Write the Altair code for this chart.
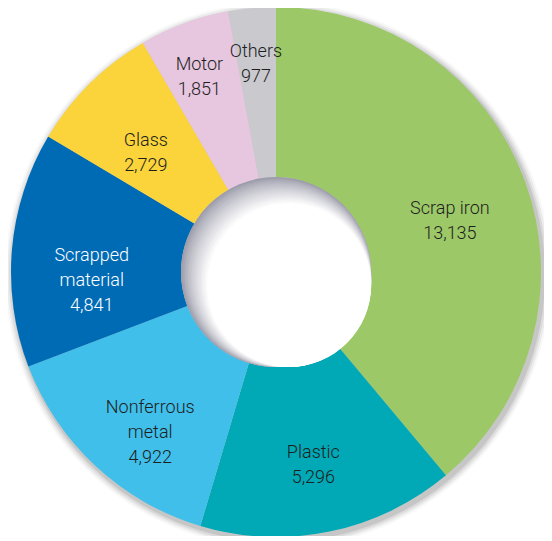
import altair as alt
import pandas as pd

categories = ["Scrap iron", "Plastic", "Nonferrous metal", "Scrapped material",
              "Glass", "Motor", "Others"]
display_names = ["Scrap iron", "Plastic", "Nonferrous\nmetal", "Scrapped\nmaterial",
                 "Glass", "Motor", "Others"]
values = [13135, 5296, 4922, 4841, 2729, 1851, 977]
colors = ["#9CC868", "#00A9B5", "#40BFEA", "#006BB5", "#FAD43A", "#E7C6DF", "#C9C9CE"]

W, H = 536, 528
CX, CY = W / 2, H / 2
TWO_PI = 6.2832

df = pd.DataFrame({
    "category": categories,
    "name": display_names,
    "value": values,
    "idx": list(range(len(categories))),
})
one = pd.DataFrame({"k": [0]})


def disc(r, color, opacity, dx, dy, inner=0):
    return alt.Chart(one).mark_arc(
        theta=0, theta2=TWO_PI, outerRadius=r, innerRadius=inner,
        fill=color, fillOpacity=opacity, stroke=None,
    ).encode(x=alt.value(CX + dx), y=alt.value(CY + dy))


# soft drop shadow behind the ring
shadow = [
    disc(273, "#4a4a4a", 0.04, 2, 3),
    disc(271, "#4a4a4a", 0.07, 2, 3),
    disc(269, "#4a4a4a", 0.10, 2, 3),
    disc(267, "#4a4a4a", 0.14, 2, 3),
]

base = alt.Chart(df).encode(
    theta=alt.Theta("value:Q", stack=True),
    order=alt.Order("idx:Q"),
)

arcs = base.mark_arc(outerRadius=265, innerRadius=95, stroke=None).encode(
    color=alt.Color("category:N",
                    scale=alt.Scale(domain=categories, range=colors),
                    legend=None),
)


def mix(c1, c2, t):
    a = [int(c1[i:i + 2], 16) for i in (1, 3, 5)]
    b = [int(c2[i:i + 2], 16) for i in (1, 3, 5)]
    return "#" + "".join(f"{round(x + (y - x) * t):02x}" for x, y in zip(a, b))


# inner shadow inside the hole (darker toward upper-left), smooth steps
hole = []
steps = 16
for i in range(steps + 1):
    t = i / steps
    d = 13 * t
    hole.append(disc(95 - d, mix("#9c9cab", "#ffffff", t ** 0.8), 1, d, d))

font = "Roboto, DejaVu Sans Condensed, sans-serif"


def labels(cond, r):
    return base.transform_calculate(
        label=f"({cond}) ? datum.name + '\\n' + format(datum.value, ',') : ''",
    ).mark_text(
        radius=r,
        font=font,
        fontSize=18,
        fontWeight=300,
        lineBreak="\n",
        lineHeight=25,
        align="center",
        baseline="middle",
    ).encode(
        text=alt.Text("label:N"),
        color=alt.condition(alt.datum.category == "Scrapped material",
                            alt.value("#FFFFFF"), alt.value("#1E1E1E")),
    )


text_big = labels("datum.value >= 2000", 185)
text_small = labels("datum.value < 2000", 221)

chart = alt.layer(*shadow, arcs, *hole, text_big, text_small).properties(
    width=W, height=H,
    padding=0,
    autosize=alt.AutoSizeParams(type="none"),
    background="white",
).configure_view(stroke=None)

chart.save("out.html", embed_options={"renderer": "svg", "actions": False})
